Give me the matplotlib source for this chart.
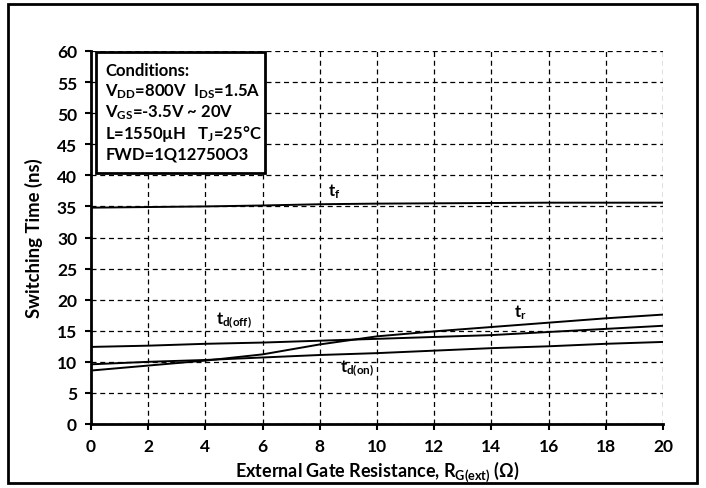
import numpy as np
import matplotlib
matplotlib.use("Agg")
import matplotlib.pyplot as plt
from matplotlib.patches import Rectangle

plt.rcParams['font.family'] = ['Lato', 'DejaVu Sans']
plt.rcParams['font.weight'] = 'bold'
plt.rcParams['mathtext.fontset'] = 'custom'
plt.rcParams['mathtext.rm'] = 'Lato:bold'
plt.rcParams['mathtext.bf'] = 'Lato:bold'
plt.rcParams['mathtext.it'] = 'Lato:bold'

# data
rg = [0, 2, 4, 6, 8, 10, 12, 14, 16, 18, 20]
t_f = [34.8, 34.9, 35.0, 35.15, 35.35, 35.45, 35.5, 35.55, 35.6, 35.6, 35.6]
t_r = [8.6, 9.4, 10.2, 11.2, 12.8, 14.1, 14.9, 15.6, 16.3, 17.0, 17.6]
t_doff = [12.4, 12.6, 12.9, 13.1, 13.4, 13.7, 14.0, 14.3, 14.8, 15.3, 15.8]
t_don = [9.6, 10.0, 10.3, 10.7, 11.1, 11.4, 11.8, 12.2, 12.5, 12.9, 13.2]

x_ticks = list(range(0, 21, 2))
y_ticks = list(range(0, 61, 5))

conditions = ["Conditions:",
              r"V$_{\rm DD}$=800V  I$_{\rm DS}$=1.5A",
              r"V$_{\rm GS}$=-3.5V ~ 20V",
              r"L=1550µH   T$_{\rm J}$=25°C",
              "FWD=1Q12750O3"]

fig = plt.figure(figsize=(7.06, 4.89), dpi=100)
ax = fig.add_axes([91/706, 1 - 425/489, (663 - 91)/706, (425 - 52)/489])

for y in [t_f, t_r, t_doff, t_don]:
    ax.plot(rg, y, color='black', lw=1.4, zorder=3)

ax.set_xlim(0, 20)
ax.set_ylim(0, 60)
ax.set_xticks(x_ticks)
ax.set_yticks(y_ticks)
ax.grid(True, color='black', linestyle=(0, (4, 3)), linewidth=0.9)
for s in ['top', 'right']:
    ax.spines[s].set_visible(False)
for s in ['left', 'bottom']:
    ax.spines[s].set_linewidth(2)
ax.tick_params(direction='out', length=4, width=1.5, labelsize=12.5, pad=6)
for lab in ax.get_xticklabels() + ax.get_yticklabels():
    lab.set_fontweight('bold')

ax.set_xlabel(r"External Gate Resistance, R$_{\rm G(ext)}$ (Ω)", fontsize=13, fontweight='bold', labelpad=3)
ax.set_ylabel("Switching Time (ns)", fontsize=13.3, fontweight='bold', labelpad=10)

# curve labels
ax.text(8.5, 37.6, r"t$_{\rm f}$", fontsize=12, ha='center', va='center')
ax.text(15.0, 18.0, r"t$_{\rm r}$", fontsize=12, ha='center', va='center')
ax.text(5.0, 16.7, r"t$_{\rm d(off)}$", fontsize=12, ha='center', va='center')
ax.text(9.3, 9.0, r"t$_{\rm d(on)}$", fontsize=12, ha='center', va='center')

# conditions box
ax.add_patch(Rectangle((0.17, 40.4), 5.9, 19.5, facecolor='white', edgecolor='black',
                       lw=2, zorder=4, clip_on=False))
for i, line in enumerate(conditions):
    ax.text(0.5, 57.0 - i * 3.38, line, fontsize=12, va='center', ha='left', zorder=5)

# outer frame
fig.patches.append(Rectangle((8/706, 5/489), 689/706, 479/489, transform=fig.transFigure,
                             fill=False, edgecolor='black', lw=2))

fig.savefig("out.png", dpi=100)
